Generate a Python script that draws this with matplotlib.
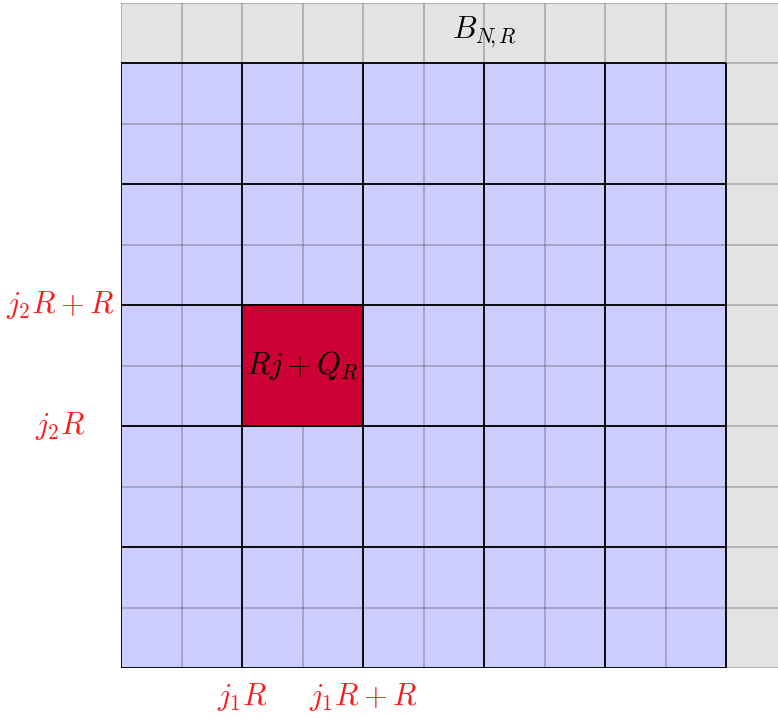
import matplotlib
matplotlib.use('Agg')
import matplotlib.pyplot as plt
from matplotlib.patches import Rectangle

plt.rcParams['mathtext.fontset'] = 'cm'

# grid sizes (in cells)
grid_n = 10          # blue matrix is grid_n x grid_n cells
block = 2            # thick lines every `block` cells
outer_w = 11         # grey area width (clipped by the figure)
outer_h = 11         # grey area height

# highlighted block: x0, y0, size
red_block = [2, 4, 2]
red_label = r'$Rj+Q_R$'
top_label = r'$B_{N\!,R}$'

x_tick_pos = [2, 4]
x_tick_labels = [r'$j_1R$', r'$j_1R+R$']
y_tick_pos = [4, 6]
y_tick_labels = [r'$j_2R$', r'$j_2R+R$']

fig = plt.figure(figsize=(7.78, 7.18), dpi=100)
ax = fig.add_axes([121/778, 50/718, 1 - 121/778, 665.5/718])
ax.set_xlim(0, 657/60.5)
ax.set_ylim(0, 665.5/60.5)
ax.axis('off')

# grey background
ax.add_patch(Rectangle((0, 0), outer_w, outer_h, facecolor='#e3e3e3', edgecolor='none', zorder=0))
# blue matrix
ax.add_patch(Rectangle((0, 0), grid_n, grid_n, facecolor='#ccccff', edgecolor='none', zorder=1))

# thin grid over everything
ax.vlines(range(0, outer_w + 1), 0, outer_h, colors='#555555', alpha=0.4, lw=1.2, zorder=2)
ax.hlines(range(0, outer_h + 1), 0, outer_w, colors='#555555', alpha=0.4, lw=1.2, zorder=2)

# thick block lines inside the blue matrix
ax.vlines(range(0, grid_n + 1, block), 0, grid_n, colors='black', lw=1.3, zorder=3)
ax.hlines(range(0, grid_n + 1, block), 0, grid_n, colors='black', lw=1.3, zorder=3)

# highlighted block
x0, y0, s = red_block
ax.add_patch(Rectangle((x0, y0), s, s, facecolor='#cc0033', edgecolor='black', lw=1.3, zorder=4))
ax.text(x0 + s / 2, y0 + s / 2, red_label, ha='center', va='center', fontsize=22, zorder=5)

ax.text(6, grid_n + 0.5, top_label, ha='center', va='center', fontsize=22, zorder=5)

for x, lab in zip(x_tick_pos, x_tick_labels):
    ax.text(x, -0.48, lab, ha='center', va='center', fontsize=22, color='#ff1a1a', clip_on=False)
for y, lab in zip(y_tick_pos, y_tick_labels):
    ax.text(-1.0, y, lab, ha='center', va='center', fontsize=22, color='#ff1a1a', clip_on=False)

fig.savefig('out.png', dpi=100)
